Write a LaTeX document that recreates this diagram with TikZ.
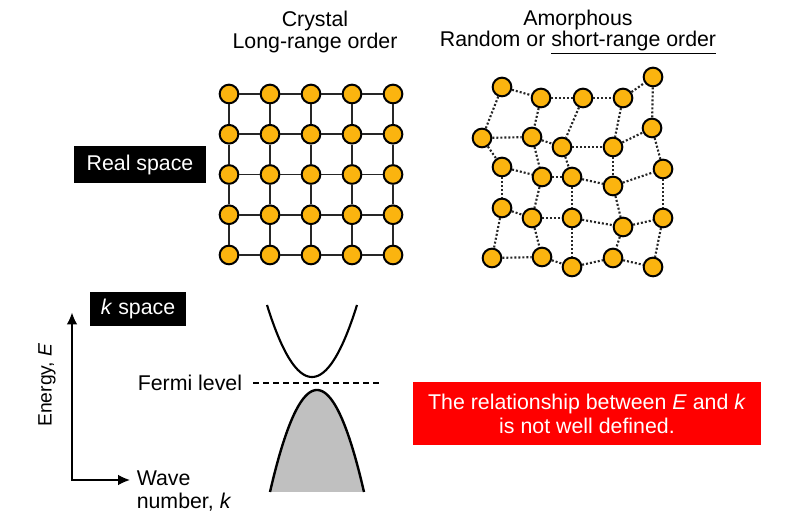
\documentclass[tikz,border=0pt]{standalone}
\usepackage{fontspec}
\setmainfont{Liberation Sans}
\usepackage{xcolor}
\definecolor{atomgold}{HTML}{FBB40F}
\definecolor{bondgray}{HTML}{262626}
\definecolor{bandgray}{HTML}{C0C0C0}
\definecolor{alertred}{HTML}{FF0000}
\usetikzlibrary{arrows.meta,positioning}

\begin{document}
\begin{tikzpicture}[
  x=0.75pt,y=-0.75pt,
  atom/.style={circle,draw=black,line width=1.5pt,fill=atomgold,minimum size=14pt,inner sep=0pt},
  bond/.style={line width=1.4pt,draw=bondgray},
  loosebond/.style={line width=1.6pt,draw=bondgray,dash pattern=on 1.5pt off 1.5pt},
  tag/.style={fill=black,text=white,align=center,inner sep=0pt,font=\fontsize{16}{18}\selectfont},
  title/.style={align=center,inner sep=0pt,font=\fontsize{16}{14.25}\selectfont},
  axis/.style={line width=1.1pt,{Latex[length=9pt,width=8pt]}-{Latex[length=9pt,width=8pt]}},
  band/.style={line width=1.8pt,draw=black},
  note/.style={fill=alertred,text=white,align=center,minimum width=261pt,minimum height=47.25pt,inner sep=0pt,font=\fontsize{16}{18}\selectfont}
]
\useasboundingbox (0,0) rectangle (800,530);

% titles
\node[title] (crystal) at (315,32) {Crystal\\Long-range order};
\node[title] (amorph) at (578,32) {Amorphous\\Random or \underline{short-range order}};

% real space, crystal lattice
\node[tag,minimum width=99pt,minimum height=27.75pt] (real) at (140,164.5) {Real space};
\foreach \i in {0,...,4}
  \foreach \j in {0,...,4}
    \node[atom] (c\i\j) at ({229+41*\i},{94+40.25*\j}) {};
\foreach \i/\n in {0/1,1/2,2/3,3/4}
  \foreach \j in {0,...,4} {
    \draw[bond] (c\i\j) -- (c\n\j);
    \draw[bond] (c\j\i) -- (c\j\n);
  }

% amorphous network
\foreach \x/\y [count=\k] in {502/87,541/98,583/98,623/98,653/77,
    482/138,532/137,562/147,613/147,652/128,
    502/167,542/177,572/177,613/186,663/169,
    502/208,532/218,572/218,623/227,663/218,
    492/258,542/257,572/267,613/258,653/267}
  \node[atom] (a\k) at (\x,\y) {};
\foreach \r in {0,5,10,15,20}
  \foreach \c in {1,...,4} {
    \pgfmathtruncatemacro{\ka}{\r+\c}
    \pgfmathtruncatemacro{\kb}{\r+\c+1}
    \draw[loosebond] (a\ka) -- (a\kb);
  }
\foreach \k in {1,...,20} {
  \pgfmathtruncatemacro{\kd}{\k+5}
  \draw[loosebond] (a\k) -- (a\kd);
}

% k space, band picture
\node[tag,minimum width=72pt,minimum height=25.5pt] (kspace) at (138,309) {\textit{k} space};
\coordinate (Etip) at (72,312.5);
\coordinate (ktip) at (130,480);
\draw[axis] (Etip) |- (ktip);
\node[rotate=90,inner sep=0pt,font=\fontsize{14.5}{16}\selectfont] (energy) at (47,385) {Energy, \textit{E}};
\node[anchor=north west,align=left,inner sep=0pt,font=\fontsize{16}{17}\selectfont] (wave) at (136.5,471) {Wave\\number, \textit{k}};

\coordinate (fermiL) at (253,383);
\coordinate (fermiR) at (383,383);
\draw[line width=1pt,dash pattern=on 4.5pt off 3pt] (fermiL) -- (fermiR);
\node[left=8pt of fermiL,inner sep=0pt,font=\fontsize{16}{18}\selectfont] (fermi) {Fermi level};

\fill[bandgray] plot[domain=-47:47,samples=60] ({317+\x},{390+102*(\x/47)^2}) -- cycle;
\draw[band] plot[domain=-47:47,samples=60] ({317+\x},{390+102*(\x/47)^2});
\draw[band,line width=1.6pt] plot[domain=-45:45,samples=60] ({312+\x},{377-72*(\x/45)^2});

% note
\node[note] (note) at (587,413.5) {The relationship between \textit{E} and \textit{k}\\is not well defined.};
\end{tikzpicture}
\end{document}
